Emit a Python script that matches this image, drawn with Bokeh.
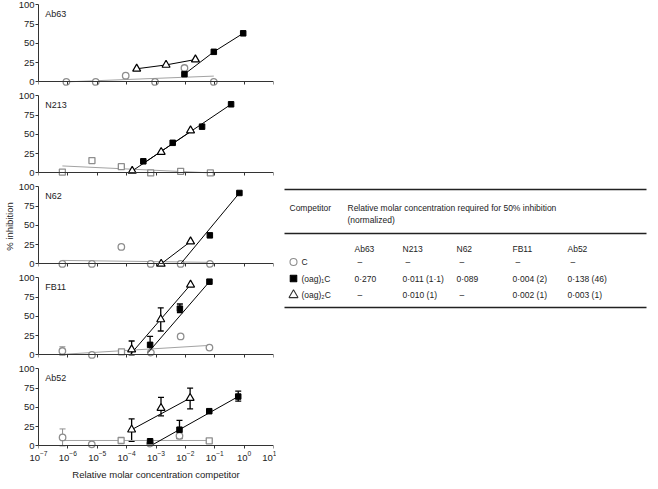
from bokeh.plotting import figure
from bokeh.layouts import column, row
from bokeh.models import (Range1d, FixedTicker, CustomJSTickFormatter, Label,
                          Whisker, TeeHead, ColumnDataSource, LogAxis)
from bokeh.embed import file_html
from bokeh.resources import INLINE
from bokeh.core.properties import value

# ---------------- data ----------------
PANELS = ["Ab63", "N213", "N62", "FB11", "Ab52"]
XTICKS = [1e-7, 1e-6, 1e-5, 1e-4, 1e-3, 1e-2, 1e-1, 1e0, 1e1]
YTICKS = [0, 25, 50, 75, 100]

# C (grey open circles)
GC_X = [[8.9e-7, 8.9e-6, 9.3e-5, 9.3e-4, 9.3e-3, 9.3e-2],
        [],
        [6.5e-7, 6.6e-6, 6.6e-5, 6.6e-4, 6.9e-3, 6.9e-2],
        [6.5e-7, 6.6e-6, 6.7e-4, 6.9e-3, 6.6e-2],
        [6.6e-7, 6.5e-6, 6.3e-4, 6.3e-3]]
GC_Y = [[0, 0, 8, 0, 18, 0],
        [],
        [0, 0, 22, 0, 0, 0],
        [5, 0, 3, 24, 9.5],
        [11, 2, 3, 13]]
# grey open squares
GS_X = [[], [6.5e-7, 6.6e-6, 6.6e-5, 6.6e-4, 6.9e-3, 7.1e-2], [], [6.7e-5], [6.5e-5, 6.5e-2]]
GS_Y = [[], [1, 16, 8, 0, 2, 0], [], [4], [7, 6.5]]
# grey regression lines
GFIT_X = [[8.9e-7, 9.3e-2], [6.5e-7, 7.1e-2], [6.5e-7, 6.9e-2], [8.9e-7, 8.0e-2], [6.6e-7, 6.5e-2]]
GFIT_Y = [[0, 7.5], [9, 0], [4.5, 2], [1, 12.5], [7, 7]]
# grey error bars
GERR_X = [[], [], [], [6.5e-7], [6.6e-7, 6.5e-5, 6.3e-3, 6.5e-2]]
GERR_LO = [[], [], [], [-0.5], [0, 5, 9, 5]]
GERR_HI = [[], [], [], [10.5], [22, 9, 17.5, 8.5]]

# (oag)2C open triangles
TRI_X = [[2.2e-4, 2.2e-3, 2.2e-2], [1.55e-4, 1.5e-3, 1.5e-2], [1.5e-3, 1.5e-2],
         [1.48e-4, 1.45e-3, 1.5e-2], [1.48e-4, 1.48e-3, 1.45e-2]]
TRI_Y = [[17, 22, 29], [2.5, 27, 55], [0, 29], [7, 46, 91], [21, 49, 62]]
TRI_FIT_X = [[2.2e-4, 2.2e-3, 2.2e-2], [1.55e-4, 1.5e-2], [1.5e-3, 1.5e-2],
             [1.3e-4, 1.5e-2], [1.48e-4, 1.45e-2]]
TRI_FIT_Y = [[17, 22, 29], [2.5, 53.6], [0, 29], [0, 91], [21, 62]]

# (oag)1C filled squares
SQ_X = [[9.3e-3, 9.3e-2, 0.93], [3.7e-4, 3.7e-3, 3.7e-2, 0.36], [6.8e-2, 0.69],
        [6.3e-4, 6.5e-3, 6.6e-2], [6.3e-4, 6.3e-3, 6.5e-2, 0.63]]
SQ_Y = [[10, 39, 63], [15, 39, 60, 89], [37, 92], [13, 60, 95], [6, 21, 45, 64]]
SQ_FIT_X = [[9.3e-3, 9.3e-2, 0.93], [3.7e-4, 0.36], [6.9e-3, 0.69], [5.4e-4, 6.6e-2], [8.1e-4, 0.63]]
SQ_FIT_Y = [[10, 39, 63], [12.3, 89], [0, 92], [3, 95], [2, 64]]

# black error bars
BERR_X = [[], [], [], [1.48e-4, 1.45e-3, 6.3e-4, 6.5e-3],
          [1.48e-4, 1.48e-3, 1.45e-2, 6.3e-3, 0.63]]
BERR_LO = [[], [], [], [0, 31, 3, 55], [6, 39, 48, 10, 58]]
BERR_HI = [[], [], [], [18, 61, 24, 66], [35, 63, 75, 33, 71]]

# table
COMPETITORS = ["C", "(oag)\u2081C", "(oag)\u2082C"]
EC50 = [["\u2013", "\u2013", "\u2013", "\u2013", "\u2013"],
        ["0\u00b7270", "0\u00b7011 (1\u00b71)", "0\u00b7089", "0\u00b7004 (2)", "0\u00b7138 (46)"],
        ["\u2013", "0\u00b7010 (1)", "\u2013", "0\u00b7002 (1)", "0\u00b7003 (1)"]]

# ---------------- style ----------------
FONT = "Liberation Sans"
TXT = "#222222"
AX = "#333333"
GRAY = "#8e8e8e"
GRAY_LINE = "#a3a3a3"

figs = []
n = len(PANELS)
for i, name in enumerate(PANELS):
    last = i == n - 1
    p = figure(x_axis_type="log", x_range=Range1d(1e-7, 10), y_range=Range1d(-6, 103),
               frame_width=235, frame_height=84, output_backend="svg", toolbar_location=None,
               min_border_left=33, min_border_right=8, min_border_top=2,
               min_border_bottom=5)
    p.outline_line_color = None
    p.grid.visible = False
    p.background_fill_color = "white"

    ya = p.yaxis[0]
    ya.ticker = FixedTicker(ticks=YTICKS)
    ya.bounds = (0, 100)
    ya.major_tick_out = 3
    ya.major_tick_in = 0
    ya.minor_tick_line_color = None
    ya.axis_line_color = AX
    ya.major_tick_line_color = AX
    ya.major_label_standoff = 1
    ya.major_label_text_font = FONT
    ya.major_label_text_font_size = "9.5px"
    ya.major_label_text_color = TXT
    if name == "N62":
        ya.axis_label = "% inhibition"
        ya.axis_label_text_font = FONT
        ya.axis_label_text_font_size = "9.5px"
        ya.axis_label_text_font_style = "normal"
        ya.axis_label_text_color = TXT
        ya.axis_label_standoff = 1

    # axis line with ticks, drawn at y = 0
    xa = p.xaxis[0]
    xa.ticker = FixedTicker(ticks=XTICKS)
    xa.fixed_location = 0
    xa.major_tick_out = 3
    xa.major_tick_in = 0
    xa.minor_tick_line_color = None
    xa.axis_line_color = AX
    xa.major_tick_line_color = AX
    xa.formatter = CustomJSTickFormatter(code="return ''")
    xa.major_label_standoff = 0

    if last:
        # labels-only axis under the frame
        lab = LogAxis(ticker=FixedTicker(ticks=XTICKS))
        lab.axis_line_color = None
        lab.major_tick_line_color = None
        lab.minor_tick_line_color = None
        lab.major_tick_out = 0
        lab.major_tick_in = 0
        lab.major_label_standoff = 0
        lab.major_label_text_font = FONT
        lab.major_label_text_font_size = "9.5px"
        lab.major_label_text_color = TXT
        lab.axis_label = "Relative molar concentration competitor"
        lab.axis_label_text_font = FONT
        lab.axis_label_text_font_size = "9.5px"
        lab.axis_label_text_font_style = "normal"
        lab.axis_label_text_color = TXT
        lab.axis_label_standoff = 5
        p.add_layout(lab, "below")

    # grey control series
    p.line(GFIT_X[i], GFIT_Y[i], line_color=GRAY_LINE, line_width=1)
    if GERR_X[i]:
        src = ColumnDataSource(dict(base=GERR_X[i], lower=GERR_LO[i], upper=GERR_HI[i]))
        p.add_layout(Whisker(source=src, base="base", lower="lower", upper="upper",
                             dimension="height", line_color=GRAY, line_width=1,
                             upper_head=TeeHead(size=6, line_color=GRAY, line_width=1),
                             lower_head=TeeHead(size=6, line_color=GRAY, line_width=1)))
    if GC_X[i]:
        p.scatter(GC_X[i], GC_Y[i], marker="circle", size=6.5, fill_color="white",
                  line_color=GRAY, line_width=1.3)
    if GS_X[i]:
        p.scatter(GS_X[i], GS_Y[i], marker="square", size=6, fill_color="white",
                  line_color=GRAY, line_width=1.3)

    # black series
    p.line(TRI_FIT_X[i], TRI_FIT_Y[i], line_color="black", line_width=1)
    p.line(SQ_FIT_X[i], SQ_FIT_Y[i], line_color="black", line_width=1)
    if BERR_X[i]:
        src = ColumnDataSource(dict(base=BERR_X[i], lower=BERR_LO[i], upper=BERR_HI[i]))
        p.add_layout(Whisker(source=src, base="base", lower="lower", upper="upper",
                             dimension="height", line_color="black", line_width=1.3,
                             upper_head=TeeHead(size=6, line_color="black", line_width=1.3),
                             lower_head=TeeHead(size=6, line_color="black", line_width=1.3)))
    p.scatter(TRI_X[i], TRI_Y[i], marker="triangle", size=8, fill_color="white",
              line_color="black", line_width=1.2)
    p.scatter(SQ_X[i], SQ_Y[i], marker="square", size=5.5, fill_color="black",
              line_color="black")

    p.add_layout(Label(x=1.7e-7, y=88, text=name, text_font=FONT, text_font_size="9px",
                       text_color=TXT, text_baseline="middle", text_align="left"))
    figs.append(p)

# ---------------- table ----------------
T_LEFT, T_RIGHT, T_TOP, T_BOTTOM = 284, 650, 8, 338
t = figure(width=T_RIGHT - T_LEFT, height=T_BOTTOM - T_TOP,
           x_range=Range1d(T_LEFT, T_RIGHT), y_range=Range1d(T_BOTTOM, T_TOP),
           output_backend="svg", toolbar_location=None,
           x_axis_location=None, y_axis_location=None, min_border=0)
t.outline_line_color = None
t.grid.visible = False

rule_y = [197, 241, 315]
t.segment(x0=[287] * 3, y0=rule_y, x1=[649] * 3, y1=rule_y, line_color=TXT, line_width=1.3)

tf = dict(text_font=value(FONT), text_font_size=value("8.5px"), text_color=TXT,
          text_baseline="middle", text_align="left")
t.text(x=[292, 350, 350], y=[215, 215, 227],
       text=["Competitor", "Relative molar concentration required for 50% inhibition",
             "(normalized)"], **tf)

col_x = [357, 405, 459, 515, 570]
t.text(x=col_x, y=[256.5] * len(PANELS), text=PANELS, **tf)

row_y = [269.5, 286, 302.5]
t.text(x=[304] * len(COMPETITORS), y=row_y, text=COMPETITORS, **tf)
t.scatter(x=[296] * 3, y=row_y, marker=["circle", "square", "triangle"], size=[7, 6.5, 9],
          fill_color=["white", "black", "white"], line_color=[GRAY, "black", AX], line_width=1.1)

vx, vy, vt = [], [], []
for r, vals in enumerate(EC50):
    for c, v in enumerate(vals):
        vx.append(col_x[c] + (3 if v == "\u2013" else 0))
        vy.append(row_y[r])
        vt.append(v)
t.text(x=vx, y=vy, text=vt, **tf)

layout = row(column(*figs), t)
open("out.html", "w").write(file_html(layout, INLINE))
